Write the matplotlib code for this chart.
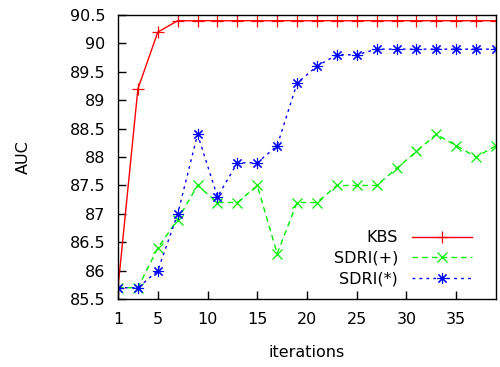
import numpy as np
from matplotlib import pyplot as plt

# iterations (odd steps 1..39)
iterations = list(range(1, 40, 2))
kbs = [85.7, 89.2, 90.2, 90.4, 90.4, 90.4, 90.4, 90.4, 90.4, 90.4,
       90.4, 90.4, 90.4, 90.4, 90.4, 90.4, 90.4, 90.4, 90.4, 90.4]
sdri_plus = [85.7, 85.7, 86.4, 86.9, 87.5, 87.2, 87.2, 87.5, 86.3, 87.2,
             87.2, 87.5, 87.5, 87.5, 87.8, 88.1, 88.4, 88.2, 88.0, 88.2]
sdri_star = [85.7, 85.7, 86.0, 87.0, 88.4, 87.3, 87.9, 87.9, 88.2, 89.3,
             89.6, 89.8, 89.8, 89.9, 89.9, 89.9, 89.9, 89.9, 89.9, 89.9]
xticks = [1, 5, 10, 15, 20, 25, 30, 35]
yticks = [85.5, 86, 86.5, 87, 87.5, 88, 88.5, 89, 89.5, 90, 90.5]

plt.rcParams['font.family'] = ['DejaVu Sans']
plt.rcParams['font.size'] = 11.5

fig = plt.figure(figsize=(5, 3.67), dpi=100)
ax = fig.add_axes([0.236, 0.185, 0.756, 0.774])

ax.plot(iterations, kbs, color='#ff0000', lw=1, ls='-', marker='+', ms=9, mew=0.9, label='KBS')
ax.plot(iterations, sdri_plus, color='#00ee00', lw=1, ls=(0, (4, 3)), marker='x', ms=7, mew=0.9,
        label='SDRI(+)')
ax.plot(iterations, sdri_star, color='#0000ff', lw=1, ls=(0, (2, 3)), marker=(8, 2, 0), ms=8, mew=0.8,
        label='SDRI(*)')

ax.set_xlim(1, 39)
ax.set_ylim(85.5, 90.5)
ax.set_xticks(xticks)
ax.set_xticklabels([str(t) for t in xticks])
ax.set_yticks(yticks)
ax.set_yticklabels(['%g' % t for t in yticks])
ax.tick_params(direction='in', length=6, width=1, top=False, right=False)
ax.tick_params(axis='y', pad=9)
ax.tick_params(axis='x', pad=9)
for s in ax.spines.values():
    s.set_linewidth(1)

ax.set_xlabel('iterations', va='center')
ax.xaxis.set_label_coords(0.5, -0.187)
ax.set_ylabel('AUC', va='center')
ax.yaxis.set_label_coords(-0.25, 0.5)

ax.legend(loc='lower right', bbox_to_anchor=(0.965, 0.005), markerfirst=False, frameon=False,
          handlelength=3.7, handletextpad=0.9, labelspacing=0.35, borderpad=0.2)

fig.savefig('out.png', dpi=100)
